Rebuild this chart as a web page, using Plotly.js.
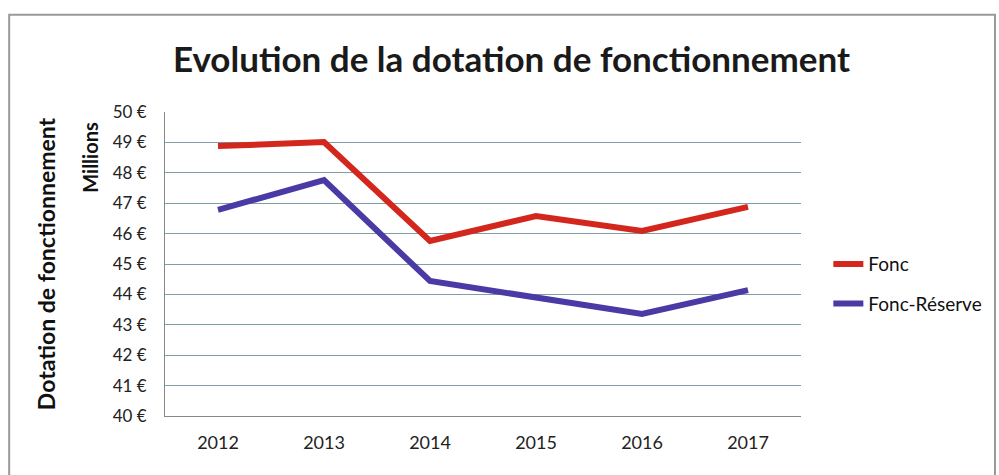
<!DOCTYPE html>
<html>
<head>
<meta charset="utf-8">
<script src="https://cdn.plot.ly/plotly-3.0.1.min.js"></script>
<style>html,body{margin:0;padding:0;background:#fff;}#chart{width:999px;height:475px;}</style>
</head>
<body>
<div id="chart"></div>
<script>
const years = ['2012','2013','2014','2015','2016','2017'];
const fonc = [48.88, 49.01, 45.76, 46.58, 46.09, 46.88];
const foncReserve = [46.78, 47.76, 44.44, 43.88, 43.36, 44.14];
const yTicks = [40,41,42,43,44,45,46,47,48,49,50];
const yTickText = yTicks.map(v => v + ' €');

const traces = [
  {x: years, y: fonc, name: 'Fonc', type: 'scatter', mode: 'lines', legendgroup: 'g1',
   line: {color: '#d3261c', width: 6}},
  {x: years, y: foncReserve, name: 'Fonc-Réserve', type: 'scatter', mode: 'lines', legendgroup: 'g2',
   line: {color: '#4a3aa6', width: 6}}
];

const layout = {
  width: 999, height: 475,
  margin: {l: 165, r: 198, t: 112, b: 59},
  paper_bgcolor: '#ffffff', plot_bgcolor: '#ffffff',
  font: {family: 'Lato, "Open Sans", sans-serif', color: '#222'},
  title: {text: '<b>Evolution de la dotation de fonctionnement</b>',
          font: {family: 'Lato, sans-serif', size: 35, color: '#1a1a1a'},
          x: 0.512, xanchor: 'center', y: 0.875, yanchor: 'middle'},
  xaxis: {type: 'category', range: [-0.5, 5.5], showgrid: false,
          showline: true, linecolor: '#888', linewidth: 1,
          ticks: '', tickfont: {size: 18, color: '#222'}, ticklabelstandoff: 10},
  yaxis: {range: [40, 50], tickvals: yTicks, ticktext: yTickText,
          showgrid: true, gridcolor: '#7f9ea6', gridwidth: 1,
          showline: true, linecolor: '#888', linewidth: 1, zeroline: false,
          ticks: '', tickfont: {size: 17, color: '#222'}, ticklabelstandoff: 14},
  showlegend: true,
  legend: {x: 1.043, y: 0.434, xanchor: 'left', yanchor: 'middle',
           font: {size: 19, color: '#111'}, itemwidth: 30, tracegroupgap: 12,
           bgcolor: 'rgba(0,0,0,0)'},
  annotations: [
    {text: '<b>Dotation de fonctionnement</b>', xref: 'paper', yref: 'paper',
     x: -0.212, y: 0.5, textangle: -90, showarrow: false,
     font: {size: 23, color: '#111'}},
    {text: '<b>Millions</b>', xref: 'paper', yref: 'paper',
     x: -0.139, y: 0.975, yanchor: 'top', textangle: -90, showarrow: false,
     font: {size: 20, color: '#111'}}
  ],
  shapes: [
    {type: 'rect', xref: 'paper', yref: 'paper', x0: -0.245, x1: 1.305, y0: -0.25, y1: 1.32,
     line: {color: '#999', width: 2}}
  ]
};

Plotly.newPlot('chart', traces, layout, {displayModeBar: false, staticPlot: true});
</script>
</body>
</html>
